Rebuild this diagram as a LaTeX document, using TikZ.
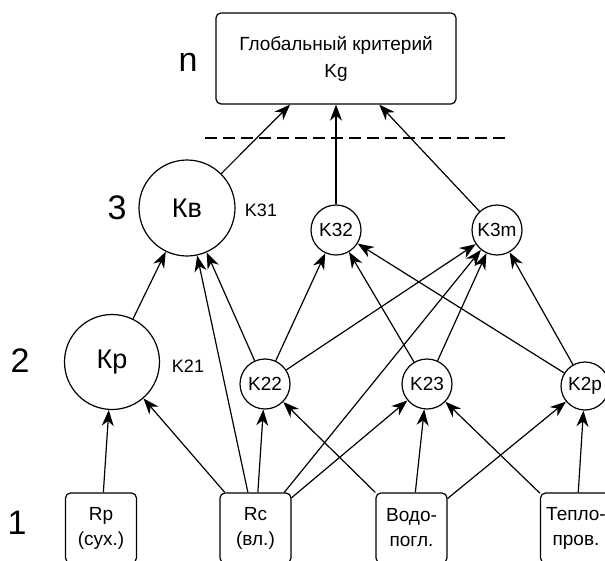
\documentclass[tikz,border=0pt]{standalone}
\usepackage{fontspec}
\setmainfont{Liberation Sans}
\usetikzlibrary{arrows.meta}
\begin{document}
\begin{tikzpicture}[x=1pt,y=-1pt,
  every node/.style={font=\fontsize{19}{26}\selectfont},
  crit/.style={draw, circle, line width=1.2pt, inner sep=0pt, minimum size=50pt},
  bigcrit/.style={crit, minimum size=96pt, font=\fontsize{27}{30}\selectfont},
  src/.style={draw, rounded corners=5pt, line width=1.2pt, minimum width=71pt, minimum height=70pt, align=center, inner sep=0pt, font=\fontsize{19}{25}\selectfont},
  topbox/.style={draw, rounded corners=5pt, line width=1.2pt, minimum width=240pt, minimum height=91pt, align=center, inner sep=0pt, font=\fontsize{19}{27}\selectfont},
  lvl/.style={font=\fontsize{34}{34}\selectfont, inner sep=0pt},
  lab/.style={font=\fontsize{18}{18}\selectfont, inner sep=0pt},
  arr/.style={-{Stealth[length=16pt,width=12pt,inset=5pt]}, line width=1.2pt},
  sep/.style={line width=2.5pt, dash pattern=on 12pt off 6pt},
]
\useasboundingbox (0,0) rectangle (605,560);

% level labels
\node[lvl] (ln) at (188,62) {n};
\node[lvl] (l3) at (117,208) {3};
\node[lvl] (l2) at (20,361) {2};
\node[lvl] (l1) at (17,523) {1};

% global criterion
\node[topbox] (top) at (336,58.5) {Глобальный критерий\\Kg};

% separator
\coordinate (dl) at (205,138);
\coordinate (dr) at (510,138);
\draw[sep] (dl) -- (dr);

% level 3
\node[bigcrit] (kv) at (187,208) {Кв};
\node[lab] (k31) at (261,210) {K31};
\node[crit] (k32) at (336,230) {K32};
\node[crit] (k3m) at (497,230) {K3m};

% level 2
\node[bigcrit, minimum size=95pt] (kp) at (112,362) {Кр};
\node[lab] (k21) at (188,366) {K21};
\node[crit] (k22) at (265,384) {K22};
\node[crit] (k23) at (427,384) {K23};
\node[crit, minimum size=48pt] (k2p) at (585,386) {K2p};

% level 1
\node[src] (rp) at (101,528) {Rp\\(сух.)};
\node[src] (rc) at (255.5,528) {Rc\\(вл.)};
\node[src] (vodo) at (411.5,528) {Водо-\\погл.};
\node[src] (teplo) at (576,528) {Тепло-\\пров.};

% level 1 -> level 2 / 3
\draw[arr] (rp) -- (kp);
\draw[arr] (rc) -- (kp);
\draw[arr] (rc) -- (kv);
\draw[arr] (rc) -- (k22);
\draw[arr] (rc) -- (k23);
\draw[arr] (rc) -- (k3m);
\draw[arr] (vodo) -- (k22);
\draw[arr] (vodo) -- (k23);
\draw[arr] (vodo) -- (k2p);
\draw[arr] (teplo) -- (k23);
\draw[arr] (teplo) -- (k2p);

% level 2 -> level 3
\draw[arr] (kp) -- (kv);
\draw[arr] (k22) -- (kv);
\draw[arr] (k22) -- (k32);
\draw[arr] (k22) -- (k3m);
\draw[arr] (k23) -- (k32);
\draw[arr] (k23) -- (k3m);
\draw[arr] (k2p) -- (k32);
\draw[arr] (k2p) -- (k3m);

% level 3 -> global
\draw[arr] (kv) -- (top);
\draw[arr] (k32) -- (top);
\draw[arr] (k3m) -- (top);
\end{tikzpicture}
\end{document}
